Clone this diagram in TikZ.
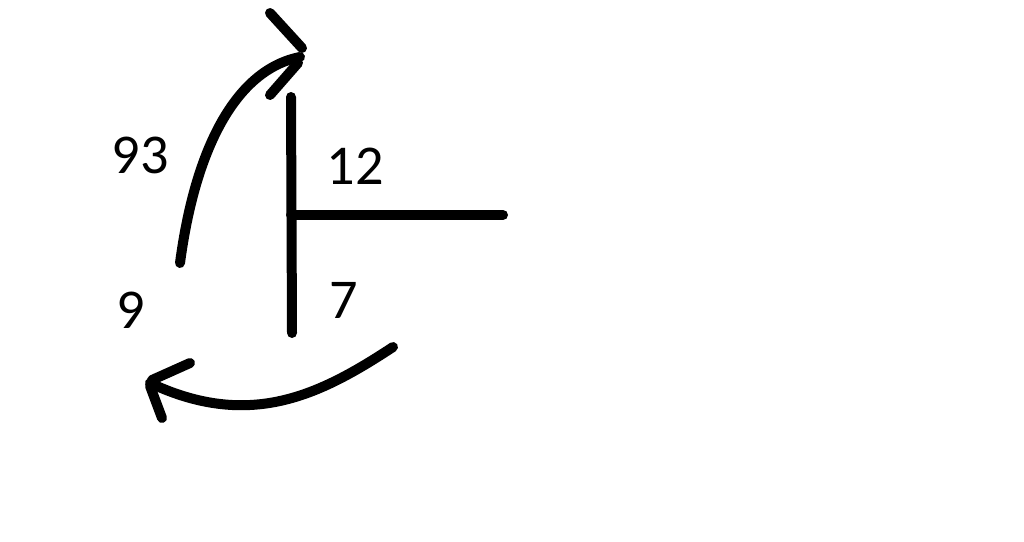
\documentclass[tikz,border=0pt]{standalone}
\usepackage{fontspec}
\setmainfont{Carlito}

\begin{document}
\begin{tikzpicture}[x=0.02cm,y=-0.02cm,line width=0.2cm,line cap=round,
    num/.style={font=\fontsize{32}{38}\selectfont}]
        \useasboundingbox (0,0) rectangle (1024,541);
        % the T shape
        \coordinate (top) at (291,97);
        \coordinate (bot) at (292,333);
        \coordinate (mid) at (291,215);
        \coordinate (right) at (503,215);
        \draw (top)--(bot);
        \draw (mid)--(right);
        % upper bent arrow
        \coordinate (ua) at (180,263);
        \coordinate (ub) at (300,57);
        \draw (ua) .. controls (195,150) and (235,70) .. (ub);
        \draw (270,13)--(302,48);
        \draw (298,63)--(270,95);
        % lower bent arrow
        \coordinate (la) at (393,347);
        \coordinate (lb) at (150,383);
        \draw (la) .. controls (320,395) and (250,430) .. (lb);
        \draw (190,363)--(152,380);
        \draw (150,386)--(162,418);
        % numbers
        \node [num] (n93) at (140,155) {93};
        \node [num] (n12) at (355,166) {12};
        \node [num] (n9) at (131,310) {9};
        \node [num] (n7) at (344,300) {7};
    \end{tikzpicture}
\end{document}
